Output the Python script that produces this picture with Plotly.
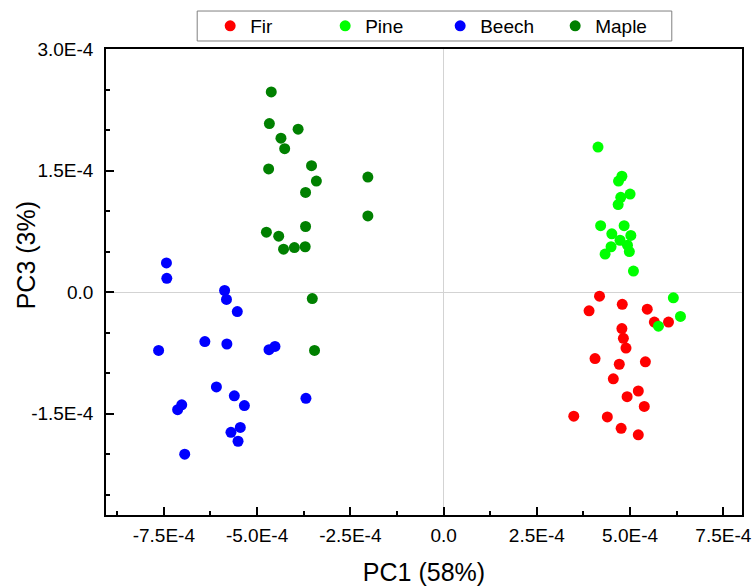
import plotly.graph_objects as go

# ---- data (units of 1e-4) ----
fir_pc1 = [4.18, 3.90, 4.79, 5.46, 5.65, 6.03, 4.78, 4.82, 4.89, 4.06, 4.71, 5.41, 4.55, 5.22, 4.92, 5.38, 3.49, 4.39, 4.76, 5.22]
fir_pc3 = [-0.05, -0.23, -0.15, -0.21, -0.37, -0.37, -0.45, -0.57, -0.69, -0.82, -0.89, -0.86, -1.07, -1.22, -1.29, -1.41, -1.53, -1.54, -1.68, -1.76]

pine_pc1 = [4.14, 4.78, 4.69, 5.00, 4.75, 4.68, 4.21, 4.84, 4.51, 5.02, 4.73, 4.93, 4.49, 4.98, 4.33, 5.09, 6.16, 6.35, 5.76]
pine_pc3 = [1.79, 1.43, 1.37, 1.21, 1.17, 1.08, 0.82, 0.82, 0.72, 0.70, 0.64, 0.58, 0.56, 0.50, 0.47, 0.26, -0.07, -0.30, -0.42]

beech_pc1 = [-7.43, -7.42, -5.87, -5.82, -5.53, -7.64, -6.40, -5.81, -4.68, -4.52, -6.09, -5.61, -5.34, -3.69, -7.02, -7.13, -5.45, -5.70, -5.51, -6.94]
beech_pc3 = [0.36, 0.17, 0.02, -0.09, -0.24, -0.72, -0.61, -0.64, -0.71, -0.67, -1.17, -1.28, -1.40, -1.31, -1.39, -1.45, -1.67, -1.73, -1.84, -2.00]

maple_pc1 = [-4.62, -4.67, -3.90, -4.36, -4.26, -4.69, -3.54, -3.41, -2.03, -3.70, -2.03, -3.70, -4.75, -4.42, -4.29, -4.00, -3.71, -3.52, -3.46]
maple_pc3 = [2.47, 2.08, 2.01, 1.90, 1.77, 1.52, 1.56, 1.37, 1.42, 1.23, 0.94, 0.81, 0.74, 0.69, 0.53, 0.55, 0.56, -0.08, -0.72]

x_tickvals = [-7.5, -5.0, -2.5, 0.0, 2.5, 5.0, 7.5]
x_ticktext = ["-7.5E-4", "-5.0E-4", "-2.5E-4", "0.0", "2.5E-4", "5.0E-4", "7.5E-4"]
y_tickvals = [-1.5, 0.0, 1.5, 3.0]
y_ticktext = ["-1.5E-4", "0.0", "1.5E-4", "3.0E-4"]

x_title = "PC1 (58%)"
y_title = "PC3 (3%)"

SCALE = 1e-4
FONT = "Arial, Liberation Sans, sans-serif"

series = [
    ("Fir", fir_pc1, fir_pc3, "#FF0000"),
    ("Pine", pine_pc1, pine_pc3, "#00FF00"),
    ("Beech", beech_pc1, beech_pc3, "#0000FF"),
    ("Maple", maple_pc1, maple_pc3, "#008000"),
]

fig = go.Figure()
for name, xs, ys, col in series:
    fig.add_trace(go.Scatter(
        x=[v * SCALE for v in xs], y=[v * SCALE for v in ys],
        mode="markers", name=name,
        marker=dict(color=col, size=11, line=dict(width=0)),
    ))

axis_common = dict(
    showgrid=False, zeroline=True, zerolinecolor="#D3D3D3", zerolinewidth=1,
    showline=True, linecolor="black", linewidth=1.5, mirror=True,
    ticks="inside", ticklen=8, tickwidth=1.5, tickcolor="black",
    tickfont=dict(family=FONT, size=19, color="black"),
    automargin=False,
)

fig.update_xaxes(
    **axis_common,
    range=[-9.05e-4, 8.0e-4],
    tickvals=[v * SCALE for v in x_tickvals], ticktext=x_ticktext,
    minor=dict(ticks="inside", ticklen=4, tickwidth=1.5, tickcolor="black", dtick=1.25e-4, tick0=0),
    ticklabelstandoff=2,
    title=dict(text=x_title, font=dict(family=FONT, size=25, color="black"), standoff=21),
)
fig.update_yaxes(
    **axis_common,
    range=[-2.75e-4, 3.0e-4],
    tickvals=[v * SCALE for v in y_tickvals], ticktext=y_ticktext,
    minor=dict(ticks="inside", ticklen=4, tickwidth=1.5, tickcolor="black", dtick=0.5e-4, tick0=0),
    ticklabelstandoff=7,
)

# y-axis title placed as rotated text
fig.add_annotation(
    text=y_title, xref="paper", yref="paper", x=-0.1252, y=0.558,
    xanchor="center", yanchor="middle", textangle=-90, showarrow=False,
    font=dict(family=FONT, size=25, color="black"),
)

# legend frame
fig.add_shape(
    type="rect", xref="paper", yref="paper",
    x0=0.1434, x1=0.8896, y0=1.0172, y1=1.0815,
    line=dict(color="#808080", width=1), fillcolor="white", layer="below",
)

fig.update_layout(
    width=756, height=586,
    margin=dict(l=106, r=14, t=49, b=71, autoexpand=False),
    paper_bgcolor="white", plot_bgcolor="white",
    font=dict(family=FONT, color="black"),
    legend=dict(
        orientation="h", x=0.1638, y=1.0494, xanchor="left", yanchor="middle",
        borderwidth=0, bgcolor="rgba(0,0,0,0)",
        font=dict(family=FONT, size=19, color="black"),
        entrywidth=70, entrywidthmode="pixels",
    ),
    showlegend=True,
)

fig.write_html(
    "out.html",
    config={"displayModeBar": False},
    post_script="document.body.style.margin='0';",
)
